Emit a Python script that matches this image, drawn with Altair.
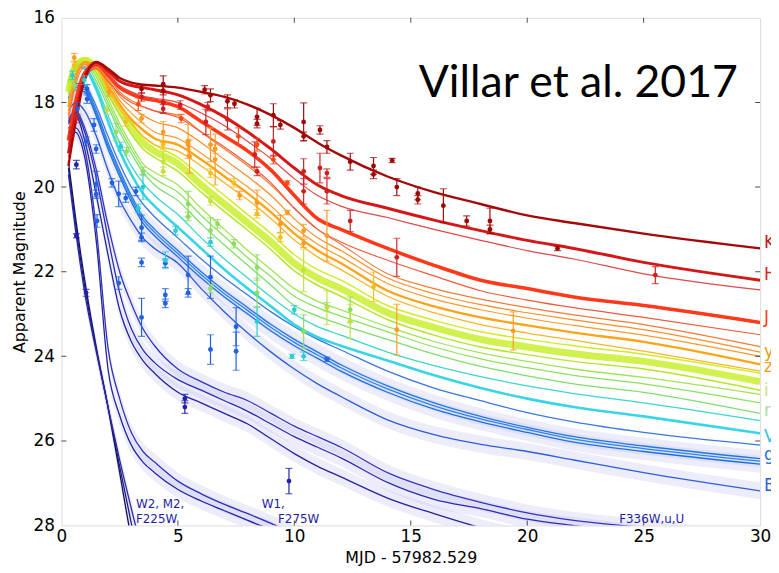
import altair as alt
import pandas as pd

# ---------------- data ----------------
X_GRID = [0.3, 0.6, 1.0, 1.5, 2.0, 2.5, 3.0, 3.5, 4.0, 5, 6, 7, 8, 9, 10, 11, 12, 14, 16, 18, 20, 22, 25, 30]

K_MAG = [19.5, 18.5, 17.45, 17.05, 17.2, 17.42, 17.53, 17.58, 17.6, 17.65, 17.75, 17.87, 18.05, 18.3, 18.6, 18.95, 19.25, 19.75, 20.12, 20.4, 20.67, 20.85, 21.1, 21.45]
H_MAG = [19.2, 18.3, 17.4, 17.05, 17.25, 17.5, 17.6, 17.65, 17.7, 17.82, 18.05, 18.34, 18.7, 19.1, 19.55, 19.95, 20.2, 20.5, 20.78, 21.03, 21.26, 21.45, 21.78, 22.2]
H2_MAG = [19.3, 18.4, 17.5, 17.15, 17.35, 17.6, 17.75, 17.85, 17.9, 18.0, 18.25, 18.55, 18.92, 19.33, 19.8, 20.2, 20.45, 20.72, 21.0, 21.26, 21.5, 21.7, 22.05, 22.43]
J_MAG = [18.9, 18.0, 17.3, 17.1, 17.35, 17.65, 17.8, 17.9, 17.95, 18.1, 18.45, 18.8, 19.15, 19.6, 20.2, 20.75, 21.0, 21.45, 21.85, 22.2, 22.4, 22.6, 22.8, 23.2]
J2_MAG = [19.0, 18.1, 17.4, 17.2, 17.5, 17.8, 18.0, 18.1, 18.2, 18.35, 18.7, 19.05, 19.45, 19.9, 20.5, 21.0, 21.3, 21.73, 22.1, 22.45, 22.67, 22.85, 23.08, 23.49]
O1_MAG = [18.4, 17.6, 17.15, 17.1, 17.4, 17.75, 17.95, 18.1, 18.2, 18.3, 18.7, 19.1, 19.5, 19.95, 20.5, 21.0, 21.35, 22.05, 22.4, 22.65, 22.85, 23.02, 23.25, 23.77]
O2_MAG = [18.3, 17.5, 17.1, 17.1, 17.45, 17.85, 18.1, 18.3, 18.45, 18.6, 18.95, 19.35, 19.75, 20.2, 20.75, 21.2, 21.5, 22.15, 22.52, 22.78, 22.97, 23.14, 23.37, 23.9]
O3_MAG = [18.2, 17.45, 17.05, 17.1, 17.5, 17.95, 18.25, 18.5, 18.7, 18.85, 19.2, 19.6, 20.0, 20.45, 20.95, 21.35, 21.65, 22.28, 22.65, 22.9, 23.1, 23.27, 23.5, 24.0]
O4_MAG = [18.1, 17.4, 17.05, 17.15, 17.6, 18.05, 18.4, 18.65, 18.85, 19.0, 19.35, 19.75, 20.15, 20.6, 21.1, 21.5, 21.8, 22.45, 22.82, 23.08, 23.27, 23.44, 23.66, 24.19]
O5_MAG = [18.0, 17.35, 17.05, 17.2, 17.7, 18.15, 18.5, 18.8, 19.0, 19.15, 19.5, 19.9, 20.3, 20.75, 21.25, 21.65, 21.95, 22.58, 22.97, 23.25, 23.45, 23.62, 23.88, 24.35]
YG1_MAG = [17.7, 17.1, 16.95, 17.15, 17.6, 18.05, 18.45, 18.8, 19.0, 19.3, 19.75, 20.2, 20.65, 21.1, 21.6, 21.95, 22.2, 22.8, 23.15, 23.42, 23.6, 23.75, 23.95, 24.4]
YG2_MAG = [17.75, 17.15, 17.0, 17.2, 17.7, 18.15, 18.6, 18.95, 19.15, 19.45, 19.95, 20.4, 20.85, 21.3, 21.8, 22.15, 22.4, 22.97, 23.32, 23.6, 23.78, 23.94, 24.12, 24.6]
YG3_MAG = [17.8, 17.2, 17.05, 17.3, 17.8, 18.3, 18.75, 19.1, 19.3, 19.63, 20.12, 20.58, 21.02, 21.48, 21.98, 22.32, 22.58, 23.13, 23.5, 23.78, 23.96, 24.12, 24.3, 24.8]
GR1_MAG = [17.6, 17.05, 17.0, 17.3, 17.9, 18.5, 19.0, 19.45, 19.65, 19.95, 20.5, 21.0, 21.5, 21.95, 22.4, 22.7, 22.9, 23.3, 23.65, 23.92, 24.12, 24.3, 24.5, 24.9]
GR2_MAG = [17.65, 17.1, 17.05, 17.4, 18.0, 18.6, 19.1, 19.55, 19.8, 20.12, 20.67, 21.17, 21.67, 22.12, 22.58, 22.85, 23.05, 23.42, 23.78, 24.06, 24.27, 24.45, 24.65, 25.1]
GR3_MAG = [17.7, 17.15, 17.1, 17.5, 18.1, 18.7, 19.2, 19.65, 19.95, 20.32, 20.87, 21.37, 21.85, 22.32, 22.8, 23.05, 23.25, 23.6, 23.95, 24.24, 24.46, 24.65, 24.85, 25.35]
CY1_MAG = [17.5, 17.1, 17.15, 17.6, 18.3, 18.95, 19.5, 19.9, 20.2, 20.65, 21.2, 21.7, 22.15, 22.6, 23.0, 23.3, 23.5, 23.9, 24.22, 24.48, 24.7, 24.88, 25.1, 25.52]
CY2_MAG = [17.55, 17.15, 17.2, 17.7, 18.45, 19.15, 19.7, 20.15, 20.45, 20.95, 21.45, 21.95, 22.4, 22.82, 23.25, 23.55, 23.75, 24.1, 24.45, 24.75, 25.0, 25.2, 25.42, 25.82]
BL_MAG = [17.9, 17.55, 17.6, 18.1, 18.8, 19.45, 20.0, 20.4, 20.7, 21.2, 21.7, 22.15, 22.55, 22.95, 23.3, 23.6, 23.85, 24.35, 24.75, 25.05, 25.33, 25.55, 25.8, 26.1]
GB1_MAG = [18.0, 17.6, 17.65, 18.2, 18.95, 19.6, 20.2, 20.7, 21.0, 21.5, 22.0, 22.45, 22.85, 23.25, 23.6, 23.9, 24.2, 24.7, 25.1, 25.42, 25.68, 25.9, 26.12, 26.42]
GB2_MAG = [18.05, 17.65, 17.7, 18.27, 19.02, 19.68, 20.27, 20.77, 21.07, 21.57, 22.07, 22.52, 22.92, 23.32, 23.67, 23.97, 24.27, 24.77, 25.17, 25.48, 25.73, 25.96, 26.18, 26.48]
GB3_MAG = [18.1, 17.7, 17.75, 18.33, 19.1, 19.75, 20.35, 20.85, 21.15, 21.65, 22.15, 22.6, 23.0, 23.4, 23.75, 24.05, 24.35, 24.85, 25.25, 25.55, 25.8, 26.03, 26.25, 26.55]
B_MAG = [18.2, 18.0, 18.2, 18.8, 19.6, 20.3, 20.8, 21.2, 21.45, 21.8, 22.4, 22.95, 23.45, 23.9, 24.3, 24.65, 24.95, 25.5, 25.85, 26.08, 26.25, 26.45, 26.75, 27.18]
U1_MAG = [18.4, 18.2, 18.6, 19.6, 20.9, 22.0, 22.75, 23.35, 23.75, 24.3, 24.6, 24.85, 25.05, 25.35, 25.65, 25.9, 26.15, 26.75, 27.15, 27.45, 27.7, 27.88, 28.05, 28.4]
U2_MAG = [18.45, 18.25, 18.7, 19.8, 21.2, 22.5, 23.35, 23.85, 24.15, 24.55, 24.8, 25.05, 25.3, 25.6, 25.9, 26.15, 26.4, 26.98, 27.38, 27.6, 27.85, 28.0, 28.2, 28.5]
U3_MAG = [18.5, 18.3, 18.9, 20.2, 21.6, 22.9, 23.65, 24.1, 24.4, 24.85, 25.1, 25.35, 25.6, 25.95, 26.3, 26.6, 26.85, 27.35, 27.72, 28.05, 28.3, 28.5, 28.7, 29.0]
W1A_MAG = [18.9, 18.7, 19.3, 21.3, 24.3, 25.4, 26.1, 26.5, 26.75, 27.15, 27.42, 27.65, 27.88, 28.1, 28.35]
W1B_MAG = [18.8, 18.6, 19.1, 21.0, 23.8, 25.0, 25.8, 26.25, 26.5, 26.95, 27.25, 27.5, 27.72, 27.95, 28.2]
W2A_MAG = [19.4, 20.7, 22.2, 23.8, 25.2, 26.75, 28.3, 29.5]
W2B_MAG = [19.55, 20.85, 22.35, 23.85, 25.2, 26.6, 27.95, 29.2]
W2C_MAG = [19.7, 21.0, 22.5, 23.9, 25.2, 26.45, 27.6, 28.7]

# observed photometry (x, magnitude, error) per band group
PTS_K = [(3.44, 17.68, 0.1), (4.37, 17.57, 0.2), (4.37, 17.72, 0.1), (6.15, 17.7, 0.1), (6.4, 17.83, 0.15),
         (7.13, 17.97, 0.15), (7.43, 18.03, 0.1), (8.4, 18.34, 0.2), (8.4, 18.5, 0.1), (9.1, 18.3, 0.27),
         (9.4, 18.53, 0.1), (10.4, 18.46, 0.45), (10.4, 18.8, 0.1), (11.1, 18.65, 0.1), (11.4, 19.05, 0.15),
         (12.4, 19.4, 0.2), (13.4, 19.5, 0.2), (13.4, 19.7, 0.1), (14.2, 19.37, 0.05), (14.4, 20.0, 0.2),
         (15.3, 20.15, 0.15), (15.3, 20.3, 0.1), (16.4, 20.44, 0.4), (17.4, 20.8, 0.12), (18.4, 20.8, 0.3),
         (18.4, 21.0, 0.1), (21.3, 21.45, 0.05)]
PTS_H = [(0.64, 18.38, 0.1), (0.42, 18.7, 0.1), (3.44, 17.87, 0.1), (4.37, 18.0, 0.25), (4.37, 18.15, 0.1),
         (5.1, 18.06, 0.1), (6.2, 18.46, 0.3), (6.28, 18.1, 0.1), (7.13, 18.4, 0.25), (8.3, 19.23, 0.3),
         (8.4, 19.63, 0.1), (9.1, 18.92, 0.35), (10.4, 19.63, 0.3), (10.4, 20.1, 0.3), (11.1, 19.55, 0.35),
         (11.4, 19.67, 0.1), (11.4, 20.1, 0.3), (12.4, 20.8, 0.25), (14.4, 21.66, 0.45), (25.5, 22.08, 0.2)]
PTS_J = [(3.3, 18.04, 0.15), (5.14, 18.38, 0.1), (9.1, 19.35, 0.1), (9.7, 19.9, 0.05), (7.6, 18.8, 0.2),
         (8.4, 19.0, 0.15)]
PTS_O = [(0.55, 16.94, 0.1), (2.04, 17.75, 0.1), (3.44, 18.38, 0.1), (4.37, 18.7, 0.25), (5.44, 18.92, 0.4),
         (5.44, 19.0, 0.1), (5.5, 19.27, 0.4), (6.4, 19.0, 0.4), (6.6, 19.1, 0.1), (6.6, 19.35, 0.6),
         (7.65, 20.2, 0.1), (8.4, 20.37, 0.3), (9.7, 20.6, 0.05), (9.4, 20.87, 0.2), (10.4, 21.03, 0.15),
         (10.4, 21.33, 0.1), (11.4, 21.15, 0.6), (14.4, 23.37, 0.6), (19.4, 23.4, 0.45)]
PTS_Y = [(0.55, 17.12, 0.1), (2.76, 18.46, 0.1), (4.37, 19.0, 0.1), (6.4, 19.67, 0.1), (7.4, 19.9, 0.1),
         (8.4, 20.63, 0.1), (9.4, 21.19, 0.1), (13.4, 22.36, 0.35)]
PTS_YG = [(1.95, 18.18, 0.1), (4.37, 19.4, 0.25), (4.37, 19.63, 0.1), (6.4, 20.33, 0.1), (10.4, 21.97, 0.5),
          (11.4, 22.85, 0.4), (12.4, 23.18, 0.4)]
PTS_G = [(0.55, 17.6, 0.1), (2.34, 18.7, 0.2), (2.8, 19.16, 0.1), (3.5, 19.63, 0.1), (5.44, 20.4, 0.3),
         (5.44, 20.7, 0.1), (6.4, 21.03, 0.3), (6.7, 20.87, 0.1), (7.4, 21.34, 0.1), (8.4, 21.9, 0.3),
         (8.4, 22.5, 0.35), (6.4, 22.4, 0.1), (10.4, 23.42, 0.4), (11.4, 22.83, 0.1), (12.4, 22.9, 0.3)]
PTS_C = [(0.47, 17.36, 0.1), (0.98, 17.47, 0.1), (2.55, 19.04, 0.1), (3.3, 20.5, 0.1), (3.5, 20.0, 0.3),
         (4.46, 21.73, 0.2), (4.9, 21.03, 0.1), (6.4, 21.3, 0.1), (8.4, 23.18, 0.35), (9.9, 24.0, 0.05),
         (10.4, 24.0, 0.1), (10.0, 22.9, 0.1)]
PTS_B = [(0.68, 18.15, 0.15), (1.1, 17.68, 0.1), (1.1, 17.92, 0.1), (1.06, 18.92, 0.1), (1.4, 18.53, 0.15),
         (1.49, 19.1, 0.1), (1.49, 19.93, 0.3), (1.49, 20.17, 0.1), (1.53, 20.8, 0.15), (2.17, 19.9, 0.1),
         (2.46, 20.16, 0.3), (2.76, 20.26, 0.1), (3.2, 20.1, 0.1), (3.44, 20.96, 0.3), (3.44, 21.19, 0.1),
         (3.44, 21.78, 0.1), (4.46, 21.8, 0.1), (4.46, 22.55, 0.15), (4.46, 22.75, 0.1), (5.44, 22.08, 0.45),
         (5.44, 22.5, 0.1), (6.4, 22.13, 0.5), (2.46, 22.27, 0.15), (3.44, 23.08, 0.45), (6.4, 23.84, 0.35),
         (7.5, 23.3, 0.45), (7.5, 23.88, 0.45), (11.4, 24.07, 0.05)]
PTS_N = [(0.64, 19.47, 0.1), (0.64, 21.15, 0.05), (1.06, 22.5, 0.08), (5.3, 25.0, 0.1), (5.3, 25.2, 0.15),
         (9.77, 26.95, 0.3)]

BAND_LABELS = ["K", "H", "J", "y", "z", "i", "r", "V", "g", "B"]
BAND_LABEL_MAG = [21.33, 22.08, 23.09, 23.91, 24.26, 24.82, 25.29, 25.9, 26.34, 27.07]

UV_LABELS = ["W2, M2,", "F225W", "W1,", "F275W", "F336W,u,U"]
UV_LABEL_X = [3.2, 3.2, 8.6, 9.3, 23.95]
UV_LABEL_MAG = [27.49, 27.84, 27.49, 27.84, 27.84]

X_TICKS = [0, 5, 10, 15, 20, 25, 30]
Y_TICKS = [16, 18, 20, 22, 24, 26, 28]

# ---------------- styles ----------------
LINE_STYLE = [
    ("W2a", W2A_MAG, "#12125e", 1.3, 1.0), ("W2b", W2B_MAG, "#1c1c7c", 1.3, 1.0), ("W2c", W2C_MAG, "#2828a0", 1.3, 1.0),
    ("W1a", W1A_MAG, "#2424a0", 1.3, 1.0), ("W1b", W1B_MAG, "#3232b4", 1.3, 1.0),
    ("U1", U1_MAG, "#3434bc", 1.3, 1.0), ("U2", U2_MAG, "#2c2cae", 1.3, 1.0), ("U3", U3_MAG, "#2424a0", 1.3, 1.0),
    ("B", B_MAG, "#2d5fd8", 1.4, 1.0),
    ("gb1", GB1_MAG, "#1f78e4", 1.3, 1.0), ("gb2", GB2_MAG, "#2a86e8", 1.3, 1.0), ("gb3", GB3_MAG, "#1c70dc", 1.3, 1.0),
    ("bl", BL_MAG, "#3a78e0", 1.3, 1.0),
    ("cy2", CY2_MAG, "#22d0e4", 2.6, 0.9), ("cy1", CY1_MAG, "#3cd6cc", 1.3, 1.0),
    ("gr3", GR3_MAG, "#7ede6c", 1.3, 1.0), ("gr2", GR2_MAG, "#8ae25e", 1.3, 1.0), ("gr1", GR1_MAG, "#9ee656", 1.3, 1.0),
    ("yg2", YG2_MAG, "#c6ee22", 7.0, 0.8), ("yg3", YG3_MAG, "#b4e628", 1.5, 1.0), ("yg1", YG1_MAG, "#d2ec20", 1.5, 1.0),
    ("o5", O5_MAG, "#ffb428", 1.3, 1.0), ("o4", O4_MAG, "#ffa418", 2.4, 1.0), ("o3", O3_MAG, "#ff9a28", 1.2, 1.0),
    ("o2", O2_MAG, "#ff8c2a", 1.2, 1.0), ("o1", O1_MAG, "#f77a34", 1.2, 1.0),
    ("J2", J2_MAG, "#ee5a3a", 1.2, 1.0), ("J", J_MAG, "#ff2e0e", 3.6, 0.95),
    ("H2", H2_MAG, "#e04848", 1.2, 1.0), ("H", H_MAG, "#d41818", 3.0, 1.0),
    ("K", K_MAG, "#a50808", 2.4, 1.0),
]
SHADED = {"W2a", "W2b", "W2c", "W1a", "W1b", "U1", "U2", "U3", "B", "gb1", "gb3"}

PT_STYLE = [(PTS_N, "#2020a8"), (PTS_B, "#2062e0"), (PTS_C, "#2ccad4"), (PTS_G, "#8edc60"),
            (PTS_YG, "#c4e03c"), (PTS_Y, "#f0c020"), (PTS_O, "#ff9a20"), (PTS_J, "#ff4a14"),
            (PTS_H, "#cc2020"), (PTS_K, "#a00808")]
LABEL_COLORS = ["#c01818", "#e02020", "#ff4010", "#e8a010", "#f0a030", "#c8e080", "#a8e0a0", "#30c0e8", "#2070e0", "#2860e0"]

# ---------------- tables ----------------
line_rows, band_rows = [], []
for order, (name, vals, color, w, op) in enumerate(LINE_STYLE):
    for x, m in zip(X_GRID, vals):
        line_rows.append({"line": name, "ord": order, "x": x, "m": m, "color": color, "w": w, "op": op})
        if name in SHADED:
            band_rows.append({"line": name, "x": x, "lo": m - 0.2, "hi": m + 0.2})
df_lines = pd.DataFrame(line_rows)
df_band = pd.DataFrame(band_rows)

pt_rows, cap_rows = [], []
for pts, color in PT_STYLE:
    for x, m, e in pts:
        pt_rows.append({"x": x, "m": m, "lo": m - e, "hi": m + e, "color": color})
        cap_rows.append({"x": x, "m": m - e, "color": color})
        cap_rows.append({"x": x, "m": m + e, "color": color})
df_pts = pd.DataFrame(pt_rows)
df_caps = pd.DataFrame(cap_rows)

df_lab = pd.DataFrame({"x": [30] * len(BAND_LABELS), "m": BAND_LABEL_MAG, "t": BAND_LABELS, "color": LABEL_COLORS})
df_uv = pd.DataFrame({"x": UV_LABEL_X, "m": UV_LABEL_MAG, "t": UV_LABELS})
df_title = pd.DataFrame({"x": [15.34], "m": [17.87], "t": ["Villar et al. 2017"]})

inner_x = [v for v in X_TICKS if 0 < v < 30]
inner_y = [v for v in Y_TICKS if 16 < v < 28]
df_tx = pd.DataFrame({"x": inner_x * 2, "m": [28] * len(inner_x) + [16] * len(inner_x)})
df_ty = pd.DataFrame({"x": [0] * len(inner_y) + [30] * len(inner_y), "m": inner_y * 2})

# ---------------- encodings ----------------
XT = "MJD - 57982.529"
YT = "Apparent Magnitude"
xs = alt.Scale(domain=[0, 30], nice=False, zero=False)
ys = alt.Scale(domain=[16, 28], reverse=True, nice=False, zero=False)
x_axis = alt.Axis(values=X_TICKS, ticks=False, domain=False, grid=False, labelFontSize=17,
                  labelFont="DejaVu Sans", labelPadding=3, labelColor="black", titleFont="DejaVu Sans",
                  titleFontSize=16, titleFontWeight="normal", titlePadding=5, titleColor="black",
                  labelFlush=False)
y_axis = alt.Axis(values=Y_TICKS, ticks=False, domain=False, grid=False, labelFontSize=17,
                  labelFont="DejaVu Sans", labelPadding=7, labelColor="black", titleFont="DejaVu Sans",
                  titleFontSize=16, titleFontWeight="normal", titlePadding=6, titleColor="black",
                  labelFlush=False)
X = alt.X("x:Q", scale=xs, axis=x_axis, title=XT)
Y = alt.Y("m:Q", scale=ys, axis=y_axis, title=YT)

bands = alt.Chart(df_band).mark_area(color="#c8c8f2", opacity=0.35, clip=True, interpolate="monotone").encode(
    x=X, y=alt.Y("lo:Q", scale=ys, axis=y_axis, title=YT), y2="hi:Q", detail="line:N")

lines = alt.Chart(df_lines).mark_line(interpolate="monotone", clip=True).encode(
    x=X, y=Y, detail="line:N",
    color=alt.Color("color:N", scale=None),
    strokeWidth=alt.StrokeWidth("w:Q", scale=None),
    opacity=alt.Opacity("op:Q", scale=None),
    order="x:Q")

errs = alt.Chart(df_pts).mark_rule(strokeWidth=1.2, clip=True).encode(
    x=X, y=alt.Y("lo:Q", scale=ys, axis=y_axis, title=YT), y2="hi:Q",
    color=alt.Color("color:N", scale=None))
caps = alt.Chart(df_caps).mark_tick(orient="horizontal", size=7, thickness=1.2, clip=True).encode(
    x=X, y=Y, color=alt.Color("color:N", scale=None))
pts = alt.Chart(df_pts).mark_point(filled=True, size=24, opacity=1, clip=True).encode(
    x=X, y=Y, color=alt.Color("color:N", scale=None))

labels = alt.Chart(df_lab).mark_text(align="left", baseline="middle", dx=4, fontSize=17,
                                     font="DejaVu Sans").encode(
    x=X, y=Y, text="t:N", color=alt.Color("color:N", scale=None))
uv = alt.Chart(df_uv).mark_text(align="left", baseline="middle", fontSize=12, font="DejaVu Sans",
                                color="#1e1ea0").encode(x=X, y=Y, text="t:N")
ttl = alt.Chart(df_title).mark_text(align="left", baseline="alphabetic", fontSize=45, font="Lato",
                                    color="black").encode(x=X, y=Y, text="t:N")

tx = alt.Chart(df_tx).mark_tick(orient="vertical", size=10, thickness=1, color="black", clip=True).encode(x=X, y=Y)
ty = alt.Chart(df_ty).mark_tick(orient="horizontal", size=10, thickness=1, color="black", clip=True).encode(x=X, y=Y)

chart = alt.layer(bands, lines, errs, caps, pts, labels, uv, ttl, tx, ty).properties(
    width=706, height=513,
    autosize=alt.AutoSizeParams(type="none"),
    padding={"left": 54, "top": 7, "right": 11, "bottom": 45},
).configure_view(stroke="black", strokeWidth=1.2).configure(background="white")

chart.save("out.html", embed_options={"renderer": "svg", "actions": False})
